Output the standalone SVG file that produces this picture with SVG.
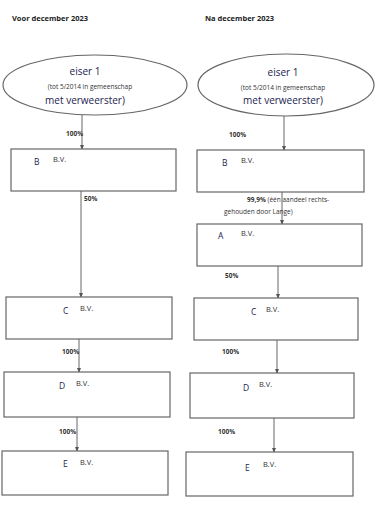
<svg xmlns="http://www.w3.org/2000/svg" width="380" height="514" viewBox="0 0 380 514">
<defs>
<marker id="arr" viewBox="0 0 6 6" refX="5" refY="3" markerWidth="5" markerHeight="5" orient="auto" markerUnits="userSpaceOnUse">
<path d="M0,0.5 L6,3 L0,5.5 Z" fill="#555"/>
</marker>
<style>
.box{fill:#fff;stroke:#666;stroke-width:1.2}
.ell{fill:#fff;stroke:#666;stroke-width:1.2}
.ln{stroke:#666;stroke-width:1;fill:none;marker-end:url(#arr)}
text{font-family:"Open Sans","Liberation Sans",sans-serif;fill:#333}
.title{font-size:7.5px;font-weight:bold;fill:#222}
.big{font-size:10px;fill:#1c2350}
.small{font-size:6.5px;fill:#333}
.pct{font-size:6.5px;fill:#333;font-weight:bold}
.let{font-size:8.5px;fill:#1c2350}
.bv{font-size:7.5px;fill:#333}
</style>
</defs>
<rect width="380" height="514" fill="#fff"/>
<text class="title" x="12" y="21">Voor december 2023</text>
<text class="title" x="205" y="21">Na december 2023</text>

<g id="connectors">
<line class="ln" x1="82" y1="115" x2="82" y2="149"/>
<line class="ln" x1="81" y1="191" x2="81" y2="297"/>
<line class="ln" x1="79" y1="339" x2="79" y2="372"/>
<line class="ln" x1="77" y1="417" x2="77" y2="451"/>
<line class="ln" x1="284" y1="116" x2="284" y2="150"/>
<line class="ln" x1="282" y1="192" x2="282" y2="224"/>
<line class="ln" x1="278" y1="266" x2="278" y2="298"/>
<line class="ln" x1="277" y1="340" x2="277" y2="373"/>
<line class="ln" x1="274" y1="418" x2="274" y2="452"/>
<text class="pct" x="66" y="136">100%</text>
<text class="pct" x="84" y="201">50%</text>
<text class="pct" x="62" y="354">100%</text>
<text class="pct" x="59" y="434">100%</text>
<text class="pct" x="229" y="137">100%</text>
<text class="small" x="247" y="202"><tspan font-weight="bold">99,9%</tspan> (één aandeel rechts-</text>
<text class="small" x="224" y="214">gehouden door Lange)</text>
<text class="pct" x="225" y="278">50%</text>
<text class="pct" x="222" y="354">100%</text>
<text class="pct" x="218" y="434">100%</text>
</g>

<g id="eiser1-left">
<ellipse class="ell" cx="95" cy="85" rx="92" ry="30"/>
<text class="big" x="85" y="75" text-anchor="middle">eiser 1</text>
<text class="small" x="90" y="89" text-anchor="middle">(tot 5/2014 in gemeenschap</text>
<text class="big" x="85" y="104" text-anchor="middle">met verweerster)</text>
</g>
<g id="B-left">
<rect class="box" x="11" y="149" width="165" height="42"/>
<text class="let" x="34" y="165">B</text><text class="bv" x="53" y="162">B.V.</text>
</g>
<g id="C-left">
<rect class="box" x="6" y="297" width="166" height="42"/>
<text class="let" x="63" y="314">C</text><text class="bv" x="80" y="311">B.V.</text>
</g>
<g id="D-left">
<rect class="box" x="4" y="372" width="166" height="45"/>
<text class="let" x="59" y="389">D</text><text class="bv" x="76" y="386">B.V.</text>
</g>
<g id="E-left">
<rect class="box" x="2" y="451" width="166" height="44"/>
<text class="let" x="63" y="467">E</text><text class="bv" x="80" y="465">B.V.</text>
</g>

<g id="eiser1-right">
<ellipse class="ell" cx="286" cy="85" rx="88" ry="31"/>
<text class="big" x="283" y="76" text-anchor="middle">eiser 1</text>
<text class="small" x="283" y="90" text-anchor="middle">(tot 5/2014 in gemeenschap</text>
<text class="big" x="283" y="104" text-anchor="middle">met verweerster)</text>
</g>
<g id="B-right">
<rect class="box" x="197" y="150" width="167" height="42"/>
<text class="let" x="222" y="166">B</text><text class="bv" x="241" y="163">B.V.</text>
</g>
<g id="A-right">
<rect class="box" x="197" y="224" width="165" height="42"/>
<text class="let" x="218" y="239">A</text><text class="bv" x="241" y="236">B.V.</text>
</g>
<g id="C-right">
<rect class="box" x="194" y="298" width="164" height="42"/>
<text class="let" x="251" y="315">C</text><text class="bv" x="266" y="312">B.V.</text>
</g>
<g id="D-right">
<rect class="box" x="190" y="373" width="164" height="45"/>
<text class="let" x="243" y="391">D</text><text class="bv" x="259" y="387">B.V.</text>
</g>
<g id="E-right">
<rect class="box" x="186" y="452" width="167" height="44"/>
<text class="let" x="245" y="471">E</text><text class="bv" x="263" y="467">B.V.</text>
</g>
</svg>
